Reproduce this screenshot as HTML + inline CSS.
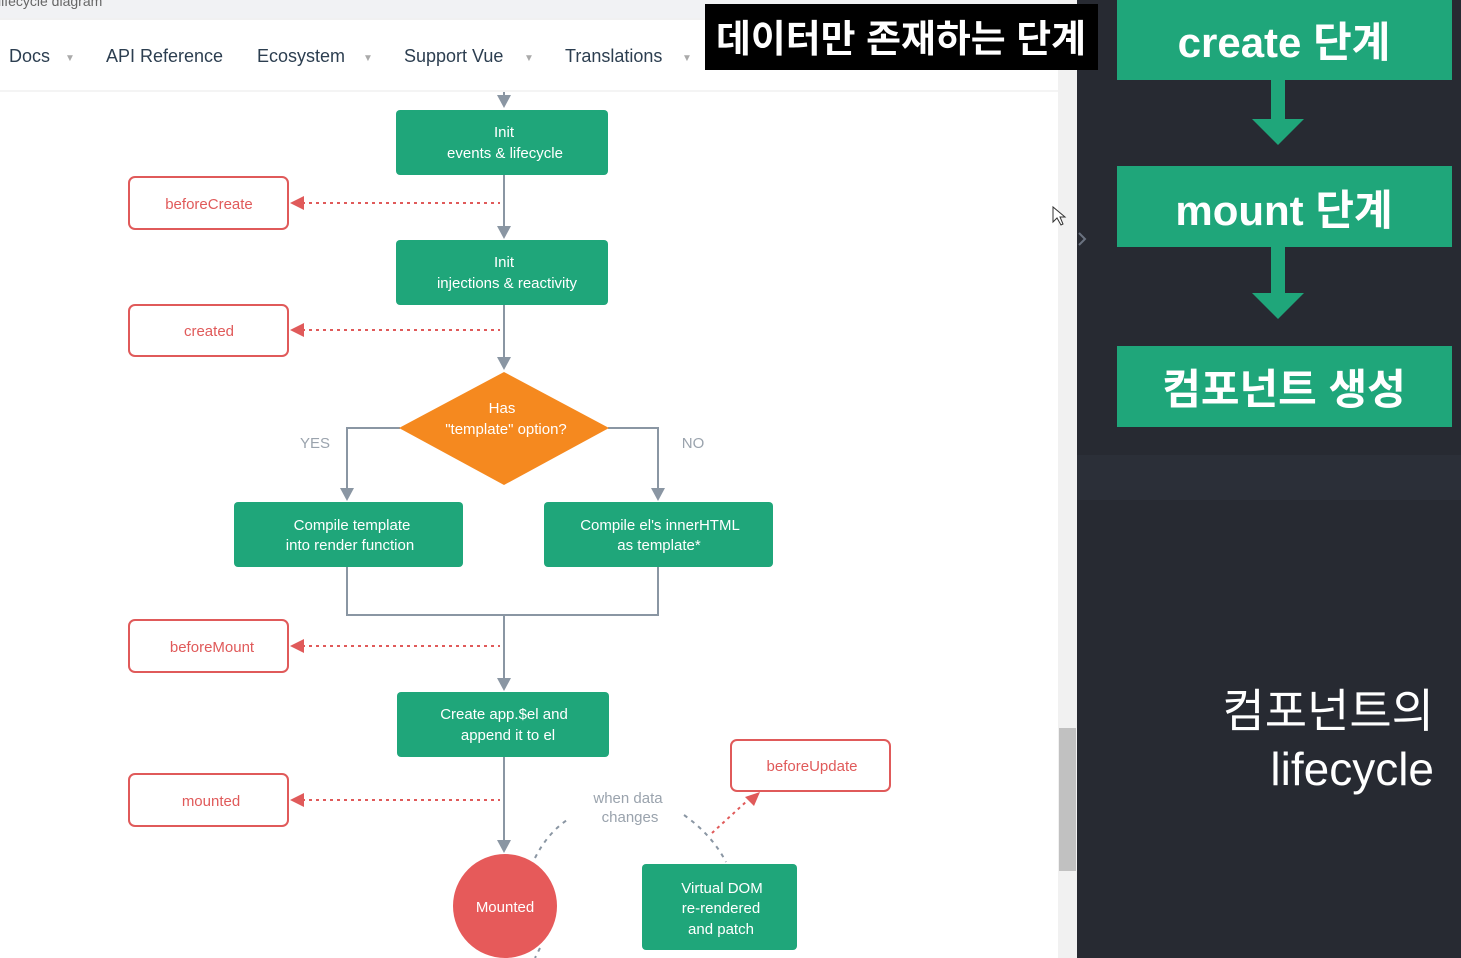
<!DOCTYPE html>
<html><head><meta charset="utf-8"><style>
html,body{margin:0;padding:0;width:1461px;height:958px;overflow:hidden;background:#fff}
svg text{font-family:"Liberation Sans","Noto Sans CJK KR",sans-serif}
</style></head><body>
<svg width="1461" height="958" viewBox="0 0 1461 958" xmlns="http://www.w3.org/2000/svg">
<rect x="0" y="0" width="1058" height="958" fill="#fff"/>
<rect x="0" y="0" width="1058" height="18" fill="#f1f2f4"/>
<text x="-2" y="6" font-size="14" fill="#666">lifecycle diagram</text>
<line x1="0" y1="19" x2="1058" y2="19" stroke="#e3e3e3"/>
<line x1="0" y1="91" x2="1058" y2="91" stroke="#eaeaea"/>
<g font-size="18" fill="#2c3e50">
<text x="9" y="62">Docs</text><text x="65" y="61" font-size="10" fill="#aaa">▼</text>
<text x="106" y="62">API Reference</text>
<text x="257" y="62">Ecosystem</text><text x="363" y="61" font-size="10" fill="#aaa">▼</text>
<text x="404" y="62">Support Vue</text><text x="524" y="61" font-size="10" fill="#aaa">▼</text>
<text x="565" y="62">Translations</text><text x="682" y="61" font-size="10" fill="#aaa">▼</text>
</g>

<!-- scrollbar -->
<rect x="1058" y="0" width="19" height="958" fill="#f1f1f1"/>
<rect x="1059" y="728" width="17" height="143" fill="#c1c1c1"/>
<rect x="1077" y="0" width="384" height="958" fill="#272a32"/>
<rect x="1077" y="455" width="384" height="45" fill="#2b2f38"/>
<path d="M1079,233 L1085,239 L1079,245" stroke="#6a7280" stroke-width="2" fill="none"/>

<rect x="705" y="4" width="393" height="66" fill="#000"/>
<text x="716" y="52" font-size="38" fill="#fff" font-weight="bold" textLength="370" lengthAdjust="spacingAndGlyphs">데이터만 존재하는 단계</text>

<!-- right panel -->
<g fill="#1fa67a">
<rect x="1117" y="0" width="335" height="80"/>
<rect x="1117" y="166" width="335" height="81"/>
<rect x="1117" y="346" width="335" height="81"/>
<rect x="1271" y="80" width="14" height="40"/>
<polygon points="1252,119 1304,119 1278,145"/>
<rect x="1271" y="247" width="14" height="46"/>
<polygon points="1252,293 1304,293 1278,319"/>
</g>
<g fill="#fff" font-weight="bold" text-anchor="middle">
<text x="1284" y="57" font-size="42">create 단계</text>
<text x="1284" y="225" font-size="42">mount 단계</text>
<text x="1284" y="404" font-size="42">컴포넌트 생성</text>
</g>
<g fill="#fff" text-anchor="end" font-size="46">
<text x="1434" y="727">컴포넌트의</text>
<text x="1434" y="785">lifecycle</text>
</g>

<!-- diagram connectors -->
<g stroke="#8a96a3" stroke-width="2" fill="none">
<line x1="504" y1="92" x2="504" y2="104"/>
<line x1="504" y1="175" x2="504" y2="234"/>
<line x1="504" y1="305" x2="504" y2="366"/>
<polyline points="400,428 347,428 347,496"/>
<polyline points="608,428 658,428 658,496"/>
<polyline points="347,567 347,615 658,615 658,567"/>
<line x1="504" y1="615" x2="504" y2="686"/>
<line x1="504" y1="757" x2="504" y2="848"/>
</g>
<g fill="#8a96a3">
<polygon points="497,95 511,95 504,108"/>
<polygon points="497,226 511,226 504,239"/>
<polygon points="497,357 511,357 504,370"/>
<polygon points="340,488 354,488 347,501"/>
<polygon points="651,488 665,488 658,501"/>
<polygon points="497,678 511,678 504,691"/>
<polygon points="497,840 511,840 504,853"/>
</g>
<g stroke="#e05a5a" stroke-width="2" stroke-dasharray="3,4" fill="none">
<line x1="302" y1="203" x2="500" y2="203"/>
<line x1="302" y1="330" x2="500" y2="330"/>
<line x1="302" y1="646" x2="500" y2="646"/>
<line x1="302" y1="800" x2="500" y2="800"/>
<line x1="712" y1="833" x2="748" y2="800"/>
</g>
<g fill="#e05a5a">
<polygon points="290,203 304,196 304,210"/>
<polygon points="290,330 304,323 304,337"/>
<polygon points="290,646 304,639 304,653"/>
<polygon points="290,800 304,793 304,807"/>
<polygon points="760,792 745,797 754,806"/>
</g>
<g stroke="#8a96a3" stroke-width="2" stroke-dasharray="4,5" fill="none">
<path d="M535,858 Q548,832 570,818"/>
<path d="M684,815 Q712,835 726,862"/>
<path d="M540,948 L535,958"/>
</g>

<g fill="#fff" stroke="#e05a5a" stroke-width="2">
<rect x="129" y="177" width="159" height="52" rx="6"/>
<rect x="129" y="305" width="159" height="51" rx="6"/>
<rect x="129" y="620" width="159" height="52" rx="6"/>
<rect x="129" y="774" width="159" height="52" rx="6"/>
<rect x="731" y="740" width="159" height="51" rx="6"/>
</g>
<g fill="#e05a5a" font-size="15" text-anchor="middle">
<text x="209" y="209">beforeCreate</text>
<text x="209" y="336">created</text>
<text x="212" y="652">beforeMount</text>
<text x="211" y="806">mounted</text>
<text x="812" y="771">beforeUpdate</text>
</g>

<g fill="#1fa67a">
<rect x="396" y="110" width="212" height="65" rx="4"/>
<rect x="396" y="240" width="212" height="65" rx="4"/>
<rect x="234" y="502" width="229" height="65" rx="4"/>
<rect x="544" y="502" width="229" height="65" rx="4"/>
<rect x="397" y="692" width="212" height="65" rx="4"/>
<rect x="642" y="864" width="155" height="86" rx="4"/>
</g>
<polygon points="504,372 609,428 504,485 399,428" fill="#f5891f"/>
<circle cx="505" cy="906" r="52" fill="#e65a5a"/>
<g fill="#fff" font-size="15" text-anchor="middle">
<text x="504" y="137">Init</text><text x="505" y="158">events &amp; lifecycle</text>
<text x="504" y="267">Init</text><text x="507" y="288">injections &amp; reactivity</text>
<text x="502" y="413">Has</text><text x="506" y="434">"template" option?</text>
<text x="352" y="530">Compile template</text><text x="350" y="550">into render function</text>
<text x="660" y="530">Compile el's innerHTML</text><text x="659" y="550">as template*</text>
<text x="504" y="719">Create app.$el and</text><text x="508" y="740">append it to el</text>
<text x="722" y="893">Virtual DOM</text><text x="721" y="913">re-rendered</text><text x="721" y="934">and patch</text>
<text x="505" y="912">Mounted</text>
</g>
<g fill="#9aa3ad" font-size="15" text-anchor="middle">
<text x="315" y="448">YES</text>
<text x="693" y="448">NO</text>
<text x="628" y="803">when data</text>
<text x="630" y="822">changes</text>
</g>
<path d="M1053,207 L1053,222 L1057,218 L1061,225 L1063,224 L1060,217 L1065,217 z" fill="#fff" stroke="#333" stroke-width="1"/>
</svg>
</body></html>
